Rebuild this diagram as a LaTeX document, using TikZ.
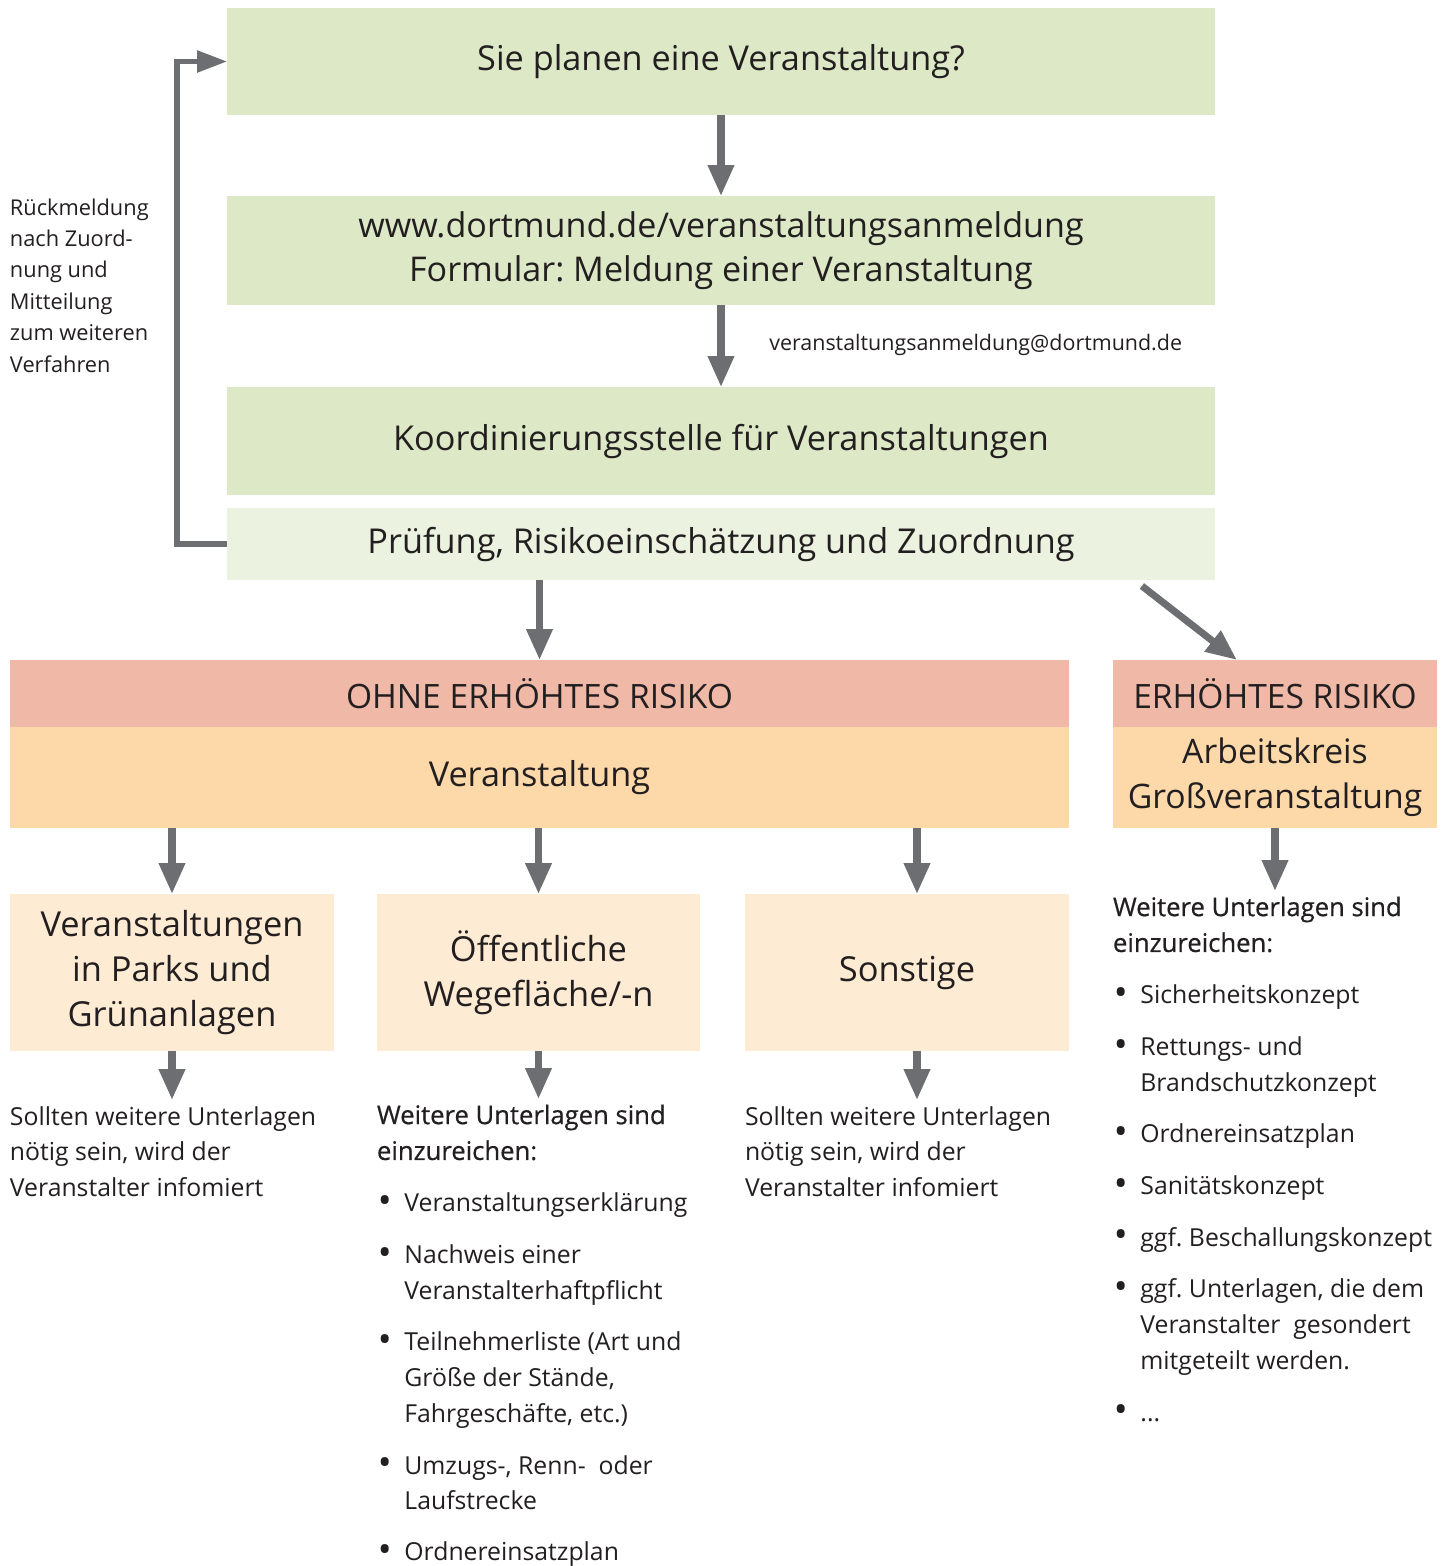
\documentclass[tikz,border=0pt]{standalone}
\usepackage{fontspec}
\setmainfont{Open Sans}
\usetikzlibrary{arrows.meta,positioning}
\frenchspacing

\definecolor{boxgreen}{HTML}{DDE9C6}
\definecolor{boxpale}{HTML}{EBF2DF}
\definecolor{riskred}{HTML}{F0B8A6}
\definecolor{eventorange}{HTML}{FDD9AA}
\definecolor{placeorange}{HTML}{FEEBD3}
\definecolor{arrowgray}{HTML}{6D6E71}
\definecolor{textdark}{HTML}{231F20}

\newcommand{\bulletmark}{\makebox[15.6pt][l]{\hspace{0.5pt}\raisebox{-1pt}{\fontsize{21}{0}\selectfont\textbullet}}}
\newcommand{\listhead}[1]{\multicolumn{2}{@{}l@{}}{\fontsize{14.6}{20.4}\selectfont\addfontfeature{FakeBold=0.6}#1}}

\tikzset{
	box/.style={inner sep=0, outer sep=0, text=textdark, align=center},
	flowarrow/.style={draw=arrowgray, line width=4pt, -{Triangle[length=0.62cm,width=0.5cm]}},
	backarrow/.style={draw=arrowgray, line width=3pt, -{Triangle[length=0.6cm,width=0.42cm]}},
	bodytext/.style={inner sep=0, outer sep=0, anchor=north west, text=textdark, font=\fontsize{14.1}{20.4}\selectfont},
}

\begin{document}
\begin{tikzpicture}[x=0.02cm, y=-0.02cm]
	\useasboundingbox (0,0) rectangle (1453,1566);

	% upper part
	\node[box, fill=boxgreen, minimum width=19.76cm, minimum height=2.14cm, font=\fontsize{19.5}{26}\selectfont] (sie) at (721,61.5) {Sie planen eine Veranstaltung?};
	\node[box, fill=boxgreen, minimum width=19.76cm, minimum height=2.18cm, font=\fontsize{19.4}{25}\selectfont] (www) at (721,250.5) {www.dortmund.de/veranstaltungsanmeldung\\Formular: Meldung einer Veranstaltung};
	\node[box, fill=boxgreen, minimum width=19.76cm, minimum height=2.16cm, font=\fontsize{19.5}{26}\selectfont] (koord) at (721,441) {Koordinierungsstelle für Veranstaltungen};
	\node[box, fill=boxpale, minimum width=19.76cm, minimum height=1.44cm, font=\fontsize{19.5}{26}\selectfont] (pruef) at (721,544) {Prüfung, Risikoeinschätzung und Zuordnung};
	\node[inner sep=0, anchor=west, text=textdark, font=\fontsize{12.2}{14}\selectfont] (mail) at (769,345) {veranstaltungsanmeldung@dortmund.de};
	\node[bodytext, font=\fontsize{12.4}{17.9}\selectfont] (rueck) at (10,193) {\begin{tabular}{@{}l@{}}Rückmeldung\\nach Zuord-\\nung und\\Mitteilung\\zum weiteren\\Verfahren\end{tabular}};

	% risk boxes
	\node[box, fill=riskred, minimum width=21.18cm, minimum height=1.34cm, font=\fontsize{19.1}{24}\selectfont] (ohne) at (539.5,693.5) {OHNE ERHÖHTES RISIKO};
	\node[box, fill=eventorange, minimum width=21.18cm, minimum height=2.02cm, font=\fontsize{19.5}{24}\selectfont] (veranst) at (539.5,777.5) {Veranstaltung};
	\node[box, fill=riskred, minimum width=6.48cm, minimum height=1.34cm, font=\fontsize{19.1}{24}\selectfont] (erh) at (1275,693.5) {ERHÖHTES RISIKO};
	\node[box, fill=eventorange, minimum width=6.48cm, minimum height=2.02cm, font=\fontsize{19.2}{25.6}\selectfont] (ak) at (1275,777.5) {Arbeitskreis\\Großveranstaltung};

	% places
	\node[box, fill=placeorange, minimum width=6.48cm, minimum height=3.14cm, font=\fontsize{19.6}{25.8}\selectfont] (parks) at (172,972.5) {Veranstaltungen\\in Parks und\\Grünanlagen};
	\node[box, fill=placeorange, minimum width=6.46cm, minimum height=3.14cm, font=\fontsize{19.6}{25.8}\selectfont] (oeff) at (538.5,972.5) {Öffentliche\\Wegefläche/-n};
	\node[box, fill=placeorange, minimum width=6.48cm, minimum height=3.14cm, font=\fontsize{19.6}{25.8}\selectfont] (sonst) at (907,972.5) {Sonstige};

	% texts below
	\node[bodytext] (parkstext) at (10,1100) {\begin{tabular}{@{}l@{}}Sollten weitere Unterlagen\\nötig sein, wird der\\Veranstalter infomiert\end{tabular}};
	\node[bodytext] (sonsttext) at (745,1100) {\begin{tabular}{@{}l@{}}Sollten weitere Unterlagen\\nötig sein, wird der\\Veranstalter infomiert\end{tabular}};
	\node[bodytext] (oefftext) at (377,1099) {\begin{tabular}{@{}l@{}l@{}}
		\listhead{Weitere Unterlagen sind}\\
		\listhead{einzureichen:}\\[9pt]
		\bulletmark & Veranstaltungserklärung\\[9pt]
		\bulletmark & Nachweis einer\\
		& Veranstalterhaftpflicht\\[9pt]
		\bulletmark & Teilnehmerliste (Art und\\
		& Größe der Stände,\\
		& Fahrgeschäfte, etc.)\\[9pt]
		\bulletmark & Umzugs-, Renn-\ \ oder\\
		& Laufstrecke\\[8.5pt]
		\bulletmark & Ordnereinsatzplan
	\end{tabular}};
	\node[bodytext] (aktext) at (1113,891) {\begin{tabular}{@{}l@{}l@{}}
		\listhead{Weitere Unterlagen sind}\\
		\listhead{einzureichen:}\\[9pt]
		\bulletmark & Sicherheitskonzept\\[9pt]
		\bulletmark & Rettungs- und\\
		& Brandschutzkonzept\\[9pt]
		\bulletmark & Ordnereinsatzplan\\[9pt]
		\bulletmark & Sanitätskonzept\\[9pt]
		\bulletmark & ggf. Beschallungskonzept\\[9pt]
		\bulletmark & ggf. Unterlagen, die dem\\
		& Veranstalter\ \ gesondert\\
		& mitgeteilt werden.\\[9pt]
		\bulletmark & ...
	\end{tabular}};

	% connectors
	\draw[flowarrow] (sie) -- (www);
	\draw[flowarrow] (www) -- (koord);
	\draw[backarrow] (pruef.west) -- ++(-1cm,0) |- (sie.west);
	\draw[flowarrow] (pruef.south -| ohne.north) -- (ohne.north);
	\draw[flowarrow] ([xshift=-1.46cm,yshift=-0.12cm]pruef.south east) -- ([xshift=-0.76cm]erh.north);
	\draw[flowarrow] (veranst.south -| parks.north) -- (parks.north);
	\draw[flowarrow] (veranst.south -| oeff.north) -- (oeff.north);
	\draw[flowarrow] ([xshift=0.2cm]veranst.south -| sonst.north) -- ([xshift=0.2cm]sonst.north);
	\draw[flowarrow] (ak.south) -- (ak.south |- aktext.north);
	\draw[flowarrow] (parks.south) -- (parks.south |- parkstext.north);
	\draw[flowarrow] (oeff.south) -- (oeff.south |- oefftext.north);
	\draw[flowarrow] ([xshift=0.2cm]sonst.south) -- ([xshift=0.2cm]sonst.south |- sonsttext.north);
\end{tikzpicture}
\end{document}
